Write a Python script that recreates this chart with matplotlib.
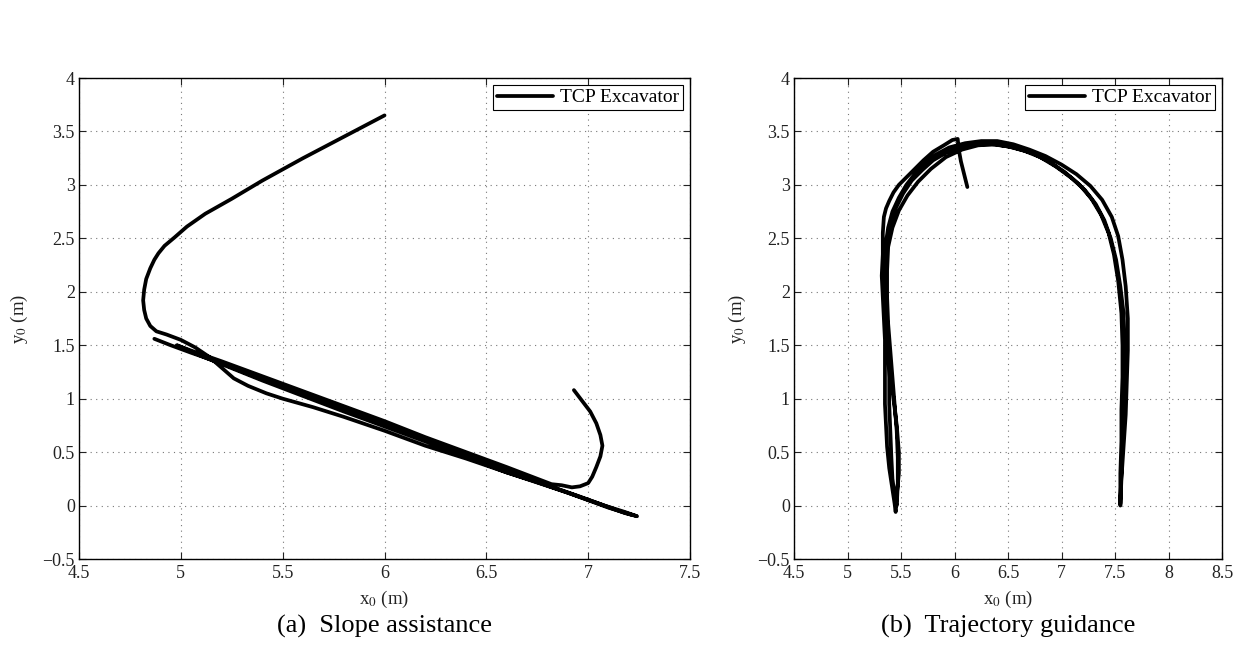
import numpy as np
import matplotlib
matplotlib.use("Agg")
import matplotlib.pyplot as plt

plt.rcParams['font.family'] = ['Liberation Serif', 'DejaVu Serif']
plt.rcParams['mathtext.fontset'] = 'stix'

# (a) slope assistance, TCP path in metres; NaN splits the two recorded strokes
slope_x = [6.00, 5.80, 5.60, 5.40, 5.25, 5.12, 5.03, 4.97, 4.92, 4.89, 4.87, 4.85, 4.83,
           4.82, 4.815, 4.82, 4.83, 4.85, 4.88, 4.93, 5.00, 5.07, 5.14, 5.20, 5.26, 5.33, 5.42,
           5.50, 5.65, 5.80, 6.00, 6.20, 6.40, 6.60, 6.80, 6.95, 7.08, 7.18, 7.24,
           7.18, 7.05, 6.90, 6.75, 6.60, 6.40, 6.20, 6.00, 5.80, 5.60, 5.40, 5.20, 5.05, 4.95, 4.87,
           np.nan,
           6.93, 6.97, 7.01, 7.04, 7.06, 7.07, 7.06, 7.04, 7.02, 7.00, 6.96, 6.92, 6.87, 6.82,
           6.60, 6.40, 6.20, 6.00, 5.80, 5.60, 5.40, 5.20, 5.05, 4.98,
           5.10, 5.40, 5.80, 6.20, 6.60, 6.90, 7.10, 7.22]
slope_y = [3.65, 3.45, 3.25, 3.04, 2.87, 2.73, 2.61, 2.51, 2.43, 2.36, 2.30, 2.22, 2.12,
           2.02, 1.92, 1.83, 1.75, 1.68, 1.63, 1.60, 1.55, 1.48, 1.39, 1.29, 1.19, 1.12, 1.05,
           1.00, 0.92, 0.83, 0.70, 0.56, 0.44, 0.31, 0.19, 0.09, 0.00, -0.06, -0.10,
           -0.07, 0.02, 0.12, 0.22, 0.33, 0.47, 0.62, 0.76, 0.90, 1.04, 1.18, 1.33, 1.43, 1.50, 1.56,
           np.nan,
           1.08, 0.98, 0.88, 0.77, 0.66, 0.56, 0.46, 0.36, 0.27, 0.21, 0.18, 0.17, 0.19, 0.20,
           0.36, 0.50, 0.64, 0.79, 0.93, 1.07, 1.21, 1.35, 1.45, 1.50,
           1.40, 1.17, 0.88, 0.60, 0.31, 0.12, -0.02, -0.09]

# (b) trajectory guidance, TCP path in metres (back and forth along an arch)
guide_x = [6.12, 6.09, 6.06, 6.04, 6.03, 5.98, 5.90, 5.80, 5.71, 5.63, 5.55, 5.48, 5.43, 5.39,
           5.36, 5.34, 5.33, 5.33, 5.32, 5.33, 5.34, 5.35, 5.35, 5.35, 5.35, 5.36, 5.37, 5.39,
           5.42, 5.44, 5.45,
           5.46, 5.48, 5.48, 5.46, 5.43, 5.40, 5.38, 5.37, 5.36, 5.36, 5.37, 5.40, 5.45, 5.52,
           5.60, 5.70, 5.80, 5.92, 6.05, 6.20, 6.35, 6.50, 6.65, 6.80, 6.95, 7.10, 7.22, 7.32,
           7.40, 7.46, 7.51, 7.55, 7.58, 7.59, 7.59, 7.58, 7.57, 7.56, 7.55, 7.55,
           7.56, 7.58, 7.60, 7.61, 7.62, 7.62, 7.60, 7.57, 7.53, 7.47, 7.38, 7.27, 7.14, 7.00,
           6.85, 6.70, 6.55, 6.40, 6.25, 6.10, 5.95, 5.82, 5.70, 5.62, 5.55, 5.48, 5.42, 5.38,
           5.35, 5.34, 5.35, 5.37, 5.38, 5.39, 5.39, 5.40, 5.41, 5.42, 5.44, 5.46,
           5.47, 5.47, 5.46, 5.44, 5.42, 5.40, 5.38, 5.37, 5.37, 5.38, 5.42, 5.48, 5.56, 5.66,
           5.78, 5.92, 6.07, 6.22, 6.38, 6.55, 6.72, 6.88, 7.03, 7.17, 7.28, 7.37, 7.44, 7.49,
           7.53, 7.56, 7.57, 7.57, 7.56, 7.56, 7.55, 7.55]
guide_y = [2.98, 3.10, 3.22, 3.33, 3.43, 3.42, 3.37, 3.31, 3.23, 3.15, 3.07, 3.00, 2.93, 2.85,
           2.78, 2.70, 2.55, 2.35, 2.15, 1.95, 1.75, 1.55, 1.35, 1.15, 0.95, 0.75, 0.55, 0.35,
           0.15, 0.02, -0.06,
           0.10, 0.30, 0.50, 0.75, 1.00, 1.25, 1.50, 1.75, 2.00, 2.25, 2.45, 2.62, 2.78, 2.92,
           3.04, 3.14, 3.23, 3.30, 3.35, 3.38, 3.38, 3.36, 3.32, 3.26, 3.17, 3.06, 2.95, 2.82,
           2.67, 2.50, 2.30, 2.05, 1.80, 1.50, 1.20, 0.90, 0.60, 0.30, 0.05, 0.00,
           0.25, 0.55, 0.85, 1.15, 1.45, 1.75, 2.05, 2.30, 2.52, 2.70, 2.86, 2.99, 3.10, 3.19,
           3.27, 3.33, 3.38, 3.41, 3.41, 3.39, 3.35, 3.28, 3.18, 3.09, 3.00, 2.88, 2.75, 2.60,
           2.40, 2.20, 1.95, 1.70, 1.45, 1.20, 0.95, 0.70, 0.45, 0.25, 0.10, 0.00,
           0.20, 0.45, 0.70, 0.95, 1.20, 1.45, 1.70, 1.95, 2.20, 2.42, 2.60, 2.76, 2.90, 3.03,
           3.15, 3.26, 3.33, 3.37, 3.38, 3.35, 3.30, 3.22, 3.12, 3.00, 2.87, 2.72, 2.55, 2.35,
           2.10, 1.80, 1.50, 1.20, 0.90, 0.60, 0.30, 0.02]

W, H = 1239, 659
fig = plt.figure(figsize=(W / 100, H / 100), dpi=100)
ax1 = fig.add_axes([79 / W, 100 / H, 611 / W, 481 / H])
ax2 = fig.add_axes([794 / W, 100 / H, 428 / W, 481 / H])


def fmt(v, p):
    return f"{v:g}".replace('-', '\u2212')


def style(ax, xlim, ylabel_x):
    ax.set_xlim(*xlim)
    ax.set_ylim(-0.5, 4)
    ax.set_xticks(np.arange(xlim[0], xlim[1] + 0.01, 0.5))
    ax.set_yticks(np.arange(-0.5, 4.01, 0.5))
    ax.xaxis.set_major_formatter(plt.FuncFormatter(fmt))
    ax.yaxis.set_major_formatter(plt.FuncFormatter(fmt))
    ax.tick_params(direction='in', length=5, width=0.8, top=True, right=True,
                   labelsize=13, pad=3, colors='#222222')
    ax.tick_params(axis='x', pad=4)
    ax.grid(True, color='#777777', linestyle=(0, (1, 4)), linewidth=0.8)
    for s in ax.spines.values():
        s.set_linewidth(1.0)
    ax.set_xlabel("x$_0$ (m)", fontsize=13.5, color='#222222')
    ax.set_ylabel("y$_0$ (m)", fontsize=13.5, color='#222222')
    ax.xaxis.set_label_coords(0.5, -0.063)
    ax.yaxis.set_label_coords(ylabel_x, 0.5)
    leg = ax.legend(loc='upper right', fontsize=14, fancybox=False, framealpha=1,
                    edgecolor='black', borderaxespad=0.35, handlelength=2.9,
                    borderpad=0.2, handletextpad=0.35)
    leg.get_frame().set_linewidth(0.8)


ax1.plot(slope_x, slope_y, color='black', linewidth=2.7, solid_capstyle='round',
         solid_joinstyle='round', label='TCP Excavator')
style(ax1, (4.5, 7.5), (30 - 79) / 611)

ax2.plot(guide_x, guide_y, color='black', linewidth=2.7, solid_capstyle='round',
         solid_joinstyle='round', label='TCP Excavator')
style(ax2, (4.5, 8.5), (748 - 794) / 428)

fig.text(384.5 / W, 1 - 626 / H, "(a)  Slope assistance", ha='center', va='center', fontsize=19)
fig.text(1008 / W, 1 - 626 / H, "(b)  Trajectory guidance", ha='center', va='center', fontsize=19)

fig.savefig("out.png", dpi=100)
